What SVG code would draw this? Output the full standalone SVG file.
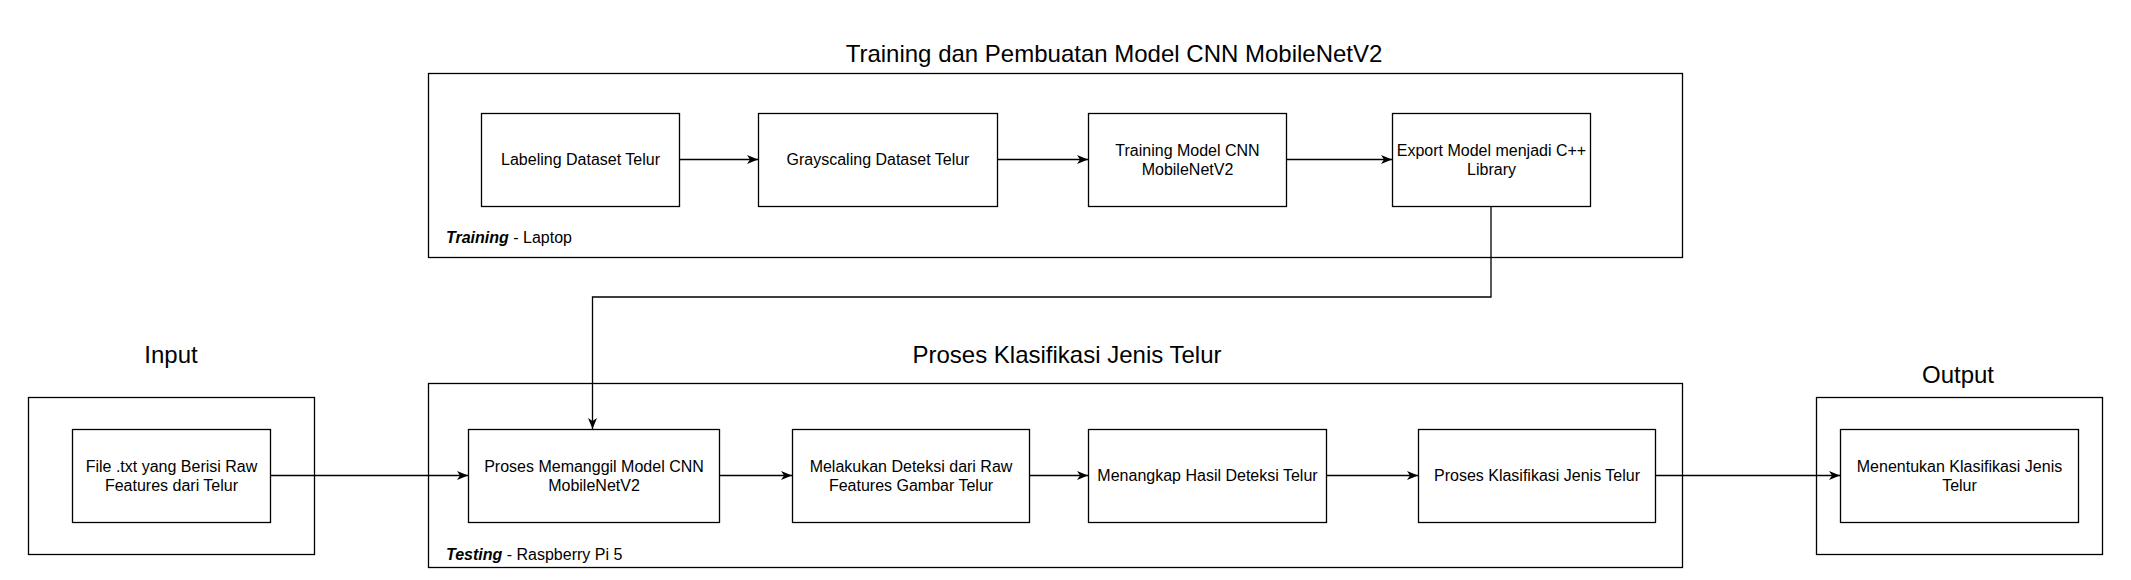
<svg xmlns="http://www.w3.org/2000/svg" width="2131" height="580" viewBox="0 0 2131 580">
<style>
.box{fill:#fff;stroke:#000;stroke-width:1.3}
.cont{fill:none;stroke:#000;stroke-width:1.3}
.t{font-family:"Liberation Sans",Arial,sans-serif;font-size:16px;fill:#000;text-anchor:middle}
.title{font-family:"Liberation Sans",Arial,sans-serif;font-size:24px;fill:#000;text-anchor:middle}
.lbl{font-family:"Liberation Sans",Arial,sans-serif;font-size:16px;fill:#000}
.c{fill:none;stroke:#000;stroke-width:1.3}
</style>
<defs>
<marker id="arr" viewBox="0 0 11 10" refX="11" refY="5" markerWidth="11" markerHeight="10" markerUnits="userSpaceOnUse" orient="auto">
<path d="M0,0.5 L11,5 L0,9.5 L3,5 Z" fill="#000"/>
</marker>
</defs>
<rect width="2131" height="580" fill="#fff"/>

<g id="training-container">
<rect class="cont" x="428.5" y="73.5" width="1254" height="184"/>
<text class="title" x="1114" y="62">Training dan Pembuatan Model CNN MobileNetV2</text>
<text class="lbl" x="446" y="243"><tspan font-weight="bold" font-style="italic">Training</tspan> - Laptop</text>
</g>

<g id="testing-container">
<rect class="cont" x="428.5" y="383.5" width="1254" height="184"/>
<text class="title" x="1067" y="363">Proses Klasifikasi Jenis Telur</text>
<text class="lbl" x="446" y="560"><tspan font-weight="bold" font-style="italic">Testing</tspan> - Raspberry Pi 5</text>
</g>

<g id="input-container">
<rect class="cont" x="28.5" y="397.5" width="286" height="157"/>
<text class="title" x="171" y="363">Input</text>
</g>

<g id="output-container">
<rect class="cont" x="1816.5" y="397.5" width="286" height="157"/>
<text class="title" x="1958" y="383">Output</text>
</g>

<g id="connectors">
<line class="c" x1="679" y1="159.5" x2="758" y2="159.5" marker-end="url(#arr)"/>
<line class="c" x1="997" y1="159.5" x2="1088" y2="159.5" marker-end="url(#arr)"/>
<line class="c" x1="1286" y1="159.5" x2="1392" y2="159.5" marker-end="url(#arr)"/>
<polyline class="c" points="1491,206 1491,297 592.5,297 592.5,429" marker-end="url(#arr)"/>
<line class="c" x1="270" y1="475.5" x2="468" y2="475.5" marker-end="url(#arr)"/>
<line class="c" x1="719" y1="475.5" x2="792" y2="475.5" marker-end="url(#arr)"/>
<line class="c" x1="1029" y1="475.5" x2="1088" y2="475.5" marker-end="url(#arr)"/>
<line class="c" x1="1326" y1="475.5" x2="1418" y2="475.5" marker-end="url(#arr)"/>
<line class="c" x1="1655" y1="475.5" x2="1840" y2="475.5" marker-end="url(#arr)"/>
</g>

<g id="labeling">
<rect class="box" x="481.5" y="113.5" width="198" height="93"/>
<text class="t" x="580.5" y="165">Labeling Dataset Telur</text>
</g>
<g id="grayscaling">
<rect class="box" x="758.5" y="113.5" width="239" height="93"/>
<text class="t" x="878" y="165">Grayscaling Dataset Telur</text>
</g>
<g id="training-model">
<rect class="box" x="1088.5" y="113.5" width="198" height="93"/>
<text class="t" x="1187.5" y="155.5">Training Model CNN</text>
<text class="t" x="1187.5" y="175">MobileNetV2</text>
</g>
<g id="export-model">
<rect class="box" x="1392.5" y="113.5" width="198" height="93"/>
<text class="t" x="1491.5" y="155.5">Export Model menjadi C++</text>
<text class="t" x="1491.5" y="175">Library</text>
</g>

<g id="input-file">
<rect class="box" x="72.5" y="429.5" width="198" height="93"/>
<text class="t" x="171.5" y="471.5">File .txt yang Berisi Raw</text>
<text class="t" x="171.5" y="491">Features dari Telur</text>
</g>
<g id="memanggil-model">
<rect class="box" x="468.5" y="429.5" width="251" height="93"/>
<text class="t" x="594" y="471.5">Proses Memanggil Model CNN</text>
<text class="t" x="594" y="491">MobileNetV2</text>
</g>
<g id="deteksi">
<rect class="box" x="792.5" y="429.5" width="237" height="93"/>
<text class="t" x="911" y="471.5">Melakukan Deteksi dari Raw</text>
<text class="t" x="911" y="491">Features Gambar Telur</text>
</g>
<g id="menangkap">
<rect class="box" x="1088.5" y="429.5" width="238" height="93"/>
<text class="t" x="1207.5" y="481">Menangkap Hasil Deteksi Telur</text>
</g>
<g id="klasifikasi">
<rect class="box" x="1418.5" y="429.5" width="237" height="93"/>
<text class="t" x="1537" y="481">Proses Klasifikasi Jenis Telur</text>
</g>
<g id="output-result">
<rect class="box" x="1840.5" y="429.5" width="238" height="93"/>
<text class="t" x="1959.5" y="471.5">Menentukan Klasifikasi Jenis</text>
<text class="t" x="1959.5" y="491">Telur</text>
</g>
</svg>
